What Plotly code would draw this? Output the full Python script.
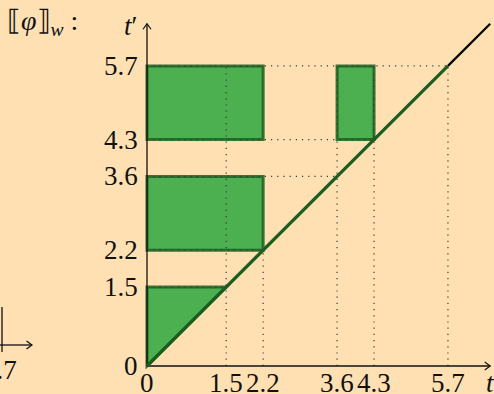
import plotly.graph_objects as go

# Interval endpoints of the semantics, on both axes
ticks = [0, 1.5, 2.2, 3.6, 4.3, 5.7]
tick_text = ["0", "1.5", "2.2", "3.6", "4.3", "5.7"]

# Rectangular regions [t0, t1] x [t'0, t'1]
rect_x0 = [0.0, 0.0, 3.6]
rect_x1 = [2.2, 2.2, 4.3]
rect_y0 = [2.2, 4.3, 4.3]
rect_y1 = [3.6, 5.7, 5.7]

# Triangular region below t' = 1.5 and above the diagonal
tri_x = [0.0, 0.0, 1.5]
tri_y = [0.0, 1.5, 1.5]

# Dotted guides: verticals from the t axis up to these heights
guide_vals = [1.5, 2.2, 3.6, 4.3, 5.7]
guide_vtop = [5.7, 2.2, 5.7, 5.7, 5.7]

horizon = 5.7
axis_end = 6.5

BG = "#FFE0B2"
FILL = "#4CAF50"
EDGE = "rgba(27,94,32,0.85)"
DARK = "#1B5E20"
FONT = "Liberation Serif"

W, H = 494, 394
OX, OY = 147, 366          # pixel position of the origin
SX, SY = 52.8, 52.65       # pixels per unit

xr = [-OX / SX, (W - OX) / SX]
yr = [-(H - OY) / SY, OY / SY]

fig = go.Figure()
shapes = []

# filled regions
for x0, x1, y0, y1 in zip(rect_x0, rect_x1, rect_y0, rect_y1):
    shapes.append(dict(type="rect", xref="x", yref="y", x0=x0, x1=x1, y0=y0, y1=y1,
                       fillcolor=FILL, line=dict(color=EDGE, width=3), layer="above"))
path = "M " + " L ".join(f"{a},{b}" for a, b in zip(tri_x, tri_y)) + " Z"
shapes.append(dict(type="path", xref="x", yref="y", path=path,
                   fillcolor=FILL, line=dict(color=EDGE, width=3), layer="above"))

# dotted guides
dot = dict(color="#3a3a3a", width=1.2, dash="1.2px,5px")
for v, top in zip(guide_vals, guide_vtop):
    shapes.append(dict(type="line", xref="x", yref="y", x0=v, x1=v, y0=0, y1=top,
                       line=dot, layer="above"))
    shapes.append(dict(type="line", xref="x", yref="y", x0=0, x1=v, y0=v, y1=v,
                       line=dot, layer="above"))

# axes
ax_line = dict(color="#111111", width=1.3)
shapes.append(dict(type="line", xref="x", yref="y", x0=0, x1=axis_end, y0=0, y1=0,
                   line=ax_line, layer="above"))
shapes.append(dict(type="line", xref="x", yref="y", x0=0, x1=0, y0=0, y1=axis_end,
                   line=ax_line, layer="above"))

# diagonal t' = t
shapes.append(dict(type="line", xref="x", yref="y", x0=horizon, x1=axis_end,
                   y0=horizon, y1=axis_end, line=dict(color="#000000", width=2.2),
                   layer="above"))
shapes.append(dict(type="line", xref="x", yref="y", x0=0, x1=horizon, y0=0, y1=horizon,
                   line=dict(color=DARK, width=3.2), layer="above"))

# neighbouring panel's axis corner at the left edge
fx = (2 - OX) / SX
shapes.append(dict(type="line", xref="x", yref="y", x0=fx, x1=fx,
                   y0=(OY - 307) / SY, y1=(OY - 352) / SY, line=ax_line, layer="above"))
shapes.append(dict(type="line", xref="x", yref="y", x0=xr[0], x1=(32 - OX) / SX,
                   y0=(OY - 345) / SY, y1=(OY - 345) / SY, line=ax_line, layer="above"))

fig.update_layout(shapes=shapes)


# open arrow heads for the axes
def head(tx, ty, dx, dy):
    back, side = 5.5, 4.0
    if dx:
        xs = [tx - back / SX, tx, tx - back / SX]
        ys = [ty + side / SY, ty, ty - side / SY]
    else:
        xs = [tx - side / SX, tx, tx + side / SX]
        ys = [ty - back / SY, ty, ty - back / SY]
    fig.add_trace(go.Scatter(x=xs, y=ys, mode="lines", hoverinfo="skip",
                             line=dict(color="#111111", width=1.2), showlegend=False))


head(axis_end, 0, 1, 0)
head(0, axis_end, 0, 1)
head((32 - OX) / SX, (OY - 345) / SY, 1, 0)

ann = []
tf = dict(family=FONT, size=27, color="#111111")
for v, t in zip(ticks, tick_text):
    ann.append(dict(x=0, y=v, xref="x", yref="y", text=t, showarrow=False,
                    xanchor="right", yanchor="middle", xshift=-7, font=tf))
    ann.append(dict(x=v, y=0, xref="x", yref="y", text=t, showarrow=False,
                    xanchor="center", yanchor="top", yshift=0, font=tf))
ann.append(dict(x=0, y=(OY - 26) / SY, xref="x", yref="y", text="<i>t</i>′",
                showarrow=False, xanchor="right", yanchor="middle", xshift=-8, font=tf))
ann.append(dict(x=axis_end, y=0, xref="x", yref="y", text="<i>t</i>", showarrow=False,
                xanchor="center", yanchor="top", yshift=0, font=tf))
ann.append(dict(x=5 / W, y=1 - 22 / H, xref="paper", yref="paper",
                text="⟦<i>φ</i>⟧<sub><i>w</i></sub> :", showarrow=False,
                xanchor="left", yanchor="middle", font=dict(family=FONT, size=28, color="#111111")))
ann.append(dict(x=19 / W, y=1 - 370 / H, xref="paper", yref="paper", text="5.7",
                showarrow=False, xanchor="right", yanchor="middle", font=tf))
fig.update_layout(annotations=ann)

fig.update_layout(
    width=W, height=H,
    margin=dict(l=0, r=0, t=0, b=0),
    paper_bgcolor=BG, plot_bgcolor=BG,
    font=dict(family=FONT),
    xaxis=dict(range=xr, visible=False, fixedrange=True),
    yaxis=dict(range=yr, visible=False, fixedrange=True),
    showlegend=False,
)

fig.write_html("out.html")
